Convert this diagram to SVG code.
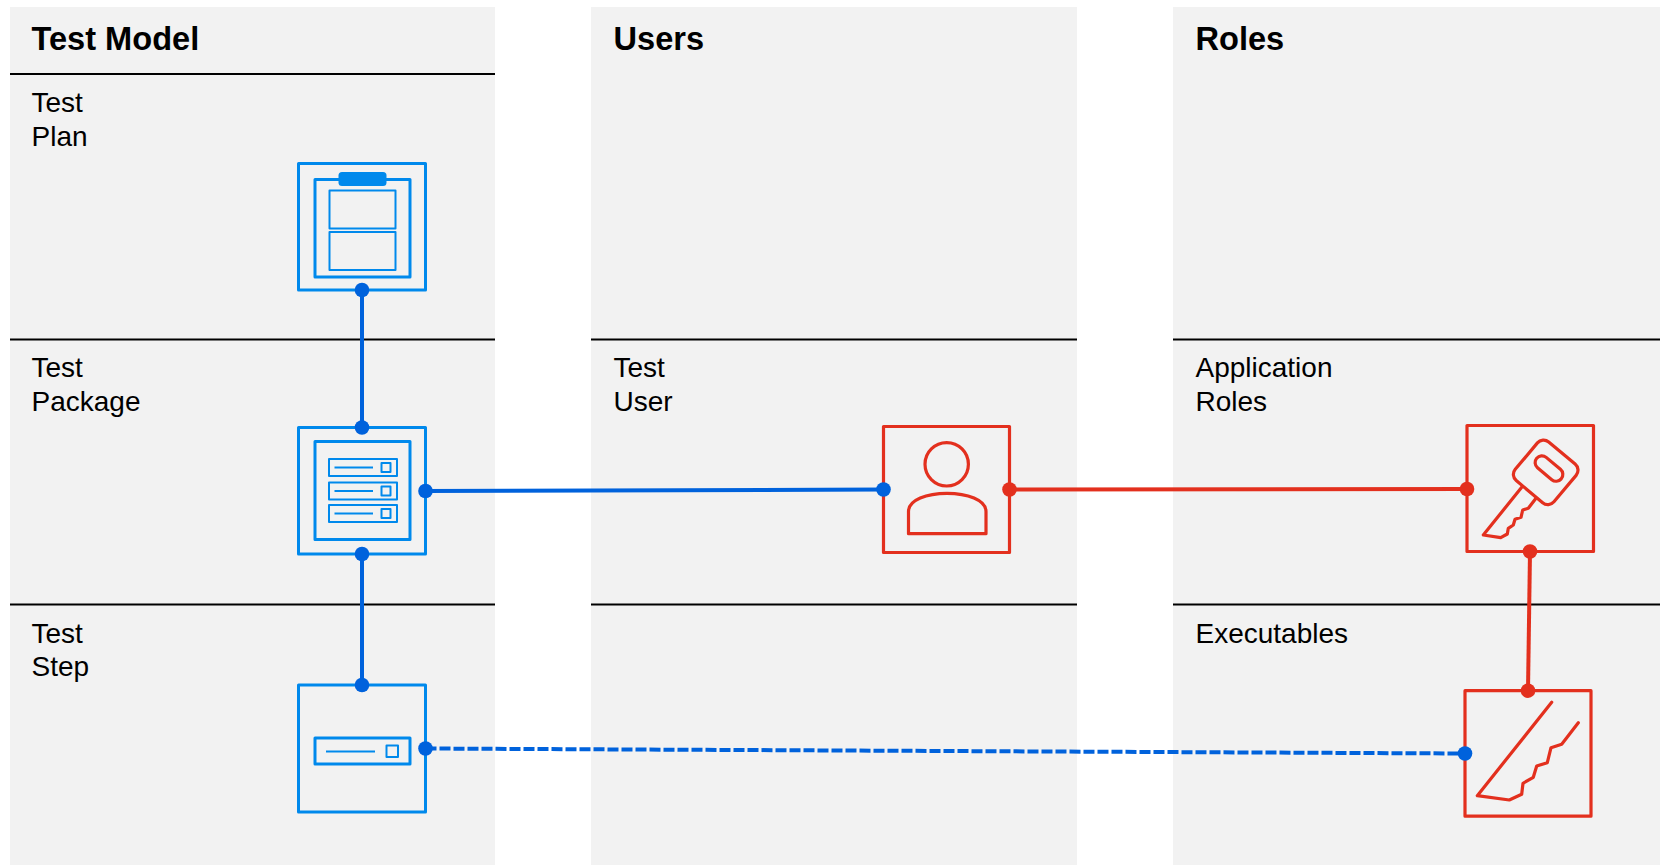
<svg xmlns="http://www.w3.org/2000/svg" width="1660" height="865" viewBox="0 0 1660 865">
<style>
.panel{fill:#f2f2f2}
.rule{stroke:#000;stroke-width:2;fill:none}
text{font-family:"Liberation Sans",Arial,sans-serif;font-size:28px;fill:#000}
.h{font-size:32.600px;font-weight:bold}
.b{fill:none;stroke:#0089ec;stroke-width:3;stroke-linejoin:round}
.b2{fill:none;stroke:#0089ec;stroke-width:2;stroke-linejoin:round}
.r{fill:none;stroke:#e3301e;stroke-width:3.200;stroke-linejoin:round;stroke-linecap:round}
.bl{stroke:#0062dc;stroke-width:4;fill:none}
.rl{stroke:#e3301e;stroke-width:4;fill:none}
.bd{fill:#0062dc}
.rd{fill:#e3301e}
</style>
<rect x="0" y="0" width="1660" height="865" fill="#fff"/>
<g id="panels">
<rect class="panel" x="10" y="7" width="485" height="858"/>
<rect class="panel" x="591" y="7" width="486" height="858"/>
<rect class="panel" x="1173" y="7" width="487" height="858"/>
<path class="rule" d="M10 74H495M10 339.500H495M10 604.500H495M591 339.500H1077M591 604.500H1077M1173 339.500H1660M1173 604.500H1660"/>
</g>
<g id="labels">
<text class="h" x="31.500" y="50">Test Model</text>
<text class="h" x="613.500" y="50">Users</text>
<text class="h" x="1195.500" y="50">Roles</text>
<text x="31.500" y="112">Test</text><text x="31.500" y="146">Plan</text>
<text x="31.500" y="377">Test</text><text x="31.500" y="411">Package</text>
<text x="31.500" y="643">Test</text><text x="31.500" y="676">Step</text>
<text x="613.500" y="377">Test</text><text x="613.500" y="411">User</text>
<text x="1195.500" y="377">Application</text><text x="1195.500" y="411">Roles</text>
<text x="1195.500" y="643">Executables</text>
</g>
<g id="node-test-plan">
<rect class="b" x="298.500" y="163.500" width="127" height="126.500"/>
<rect class="b" x="315" y="179.500" width="95" height="97.500"/>
<rect x="338.500" y="172" width="48" height="14" rx="3.500" fill="#0089ec"/>
<rect class="b2" x="329.500" y="190.500" width="66" height="38"/>
<rect class="b2" x="329.500" y="232" width="66" height="38"/>
</g>
<g id="node-test-package">
<rect class="b" x="298.500" y="427.500" width="127" height="126.500"/>
<rect class="b" x="315" y="441.500" width="95" height="98"/>
<rect class="b2" x="329" y="459" width="68" height="17"/>
<path class="b2" d="M334.500 467.500H373"/><rect class="b2" x="381.500" y="463" width="9" height="9"/>
<rect class="b2" x="329" y="482.500" width="68" height="17"/>
<path class="b2" d="M334.500 491H373"/><rect class="b2" x="381.500" y="486.500" width="9" height="9"/>
<rect class="b2" x="329" y="505" width="68" height="17"/>
<path class="b2" d="M334.500 513.500H373"/><rect class="b2" x="381.500" y="509" width="9" height="9"/>
</g>
<g id="node-test-step">
<rect class="b" x="298.500" y="685" width="127" height="127"/>
<rect class="b" x="315" y="738" width="95" height="26"/>
<path class="b2" d="M326 751.500H375"/><rect class="b2" x="386.500" y="745.500" width="11.500" height="11.500"/>
</g>
<g id="node-test-user">
<rect class="r" x="883.500" y="426.500" width="126" height="126"/>
<circle class="r" cx="946.700" cy="464.300" r="21.700"/>
<path class="r" d="M908.500 533.700V511.500C908.500 500 927 493.300 947 493.300S986 500 986 511.500V533.700Z"/>
</g>
<g id="node-application-roles">
<rect class="r" x="1467" y="425.500" width="126.500" height="126"/>
<rect class="r" x="1520.500" y="447" width="50.500" height="50.500" rx="8" transform="rotate(40 1545.600 472.200)"/>
<rect class="r" x="1533" y="461.800" width="32" height="13.500" rx="6.700" transform="rotate(40 1549 468.500)"/>
<path class="r" d="M1521.700 487.300L1483.300 535L1500.700 537.700L1507.300 534L1508.300 528.300L1513.300 525L1515 519.300L1521 517.300L1522.700 510L1528.300 508.300L1536 498.300"/>
</g>
<g id="node-executables">
<rect class="r" x="1465" y="690.700" width="126" height="125.500"/>
<path class="r" d="M1551.700 702.300L1477.300 795.700L1509.300 800L1521.700 794.300L1523 783.300L1533.300 777.300L1536.700 766L1547.300 762.700L1551 747.700L1561.700 744.300L1578.300 722.700"/>
</g>
<g id="connectors">
<path class="bl" d="M362 290V427.500"/>
<path class="bl" d="M362 554V685"/>
<path class="bl" d="M425.500 491L883.500 489.500"/>
<path class="rl" d="M1009.500 489.500L1467 489"/>
<path class="rl" d="M1530 551.500L1528 690.700"/>
<path class="bl" stroke-dasharray="11 3" d="M425.500 748.500L1465 753.500"/>
<circle class="bd" cx="362" cy="290" r="7.300"/>
<circle class="bd" cx="362" cy="427.500" r="7.300"/>
<circle class="bd" cx="425.500" cy="491" r="7.300"/>
<circle class="bd" cx="362" cy="554" r="7.300"/>
<circle class="bd" cx="362" cy="685" r="7.300"/>
<circle class="bd" cx="425.500" cy="748.500" r="7.300"/>
<circle class="bd" cx="883.500" cy="489.500" r="7.300"/>
<circle class="rd" cx="1009.500" cy="489.500" r="7.300"/>
<circle class="rd" cx="1467" cy="489" r="7.300"/>
<circle class="rd" cx="1530" cy="551.500" r="7.300"/>
<circle class="rd" cx="1528" cy="690.700" r="7.300"/>
<circle class="bd" cx="1465" cy="753.500" r="7.300"/>
</g>
</svg>
